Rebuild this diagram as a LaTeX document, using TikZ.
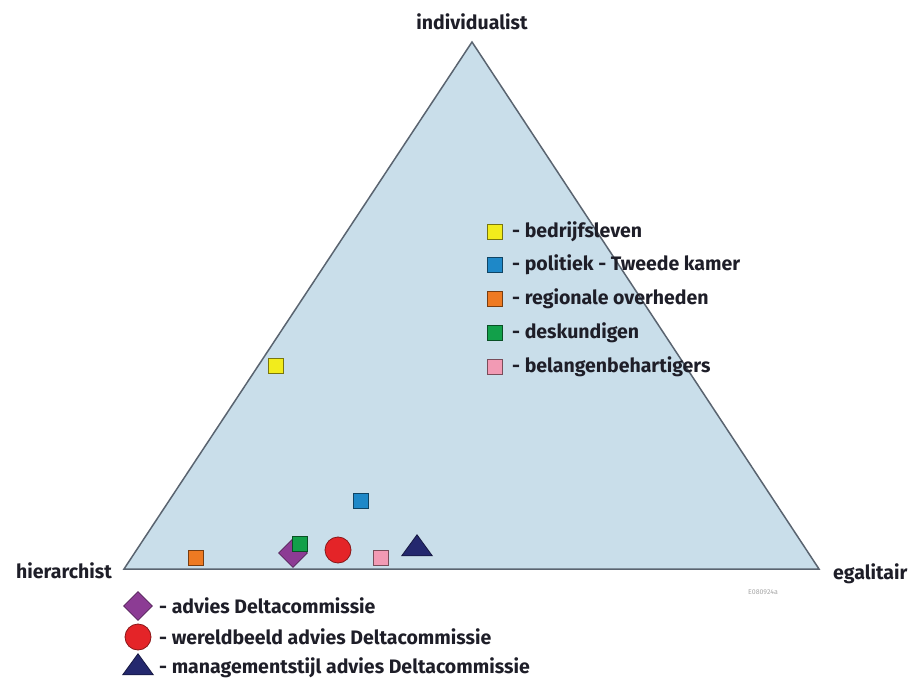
\documentclass[tikz,border=0pt]{standalone}
\usepackage{fontspec}
\setmainfont{Fira Sans}
\usetikzlibrary{shapes.geometric}
\definecolor{tri}{HTML}{C9DEEA}
\definecolor{edge}{HTML}{5A6470}
\definecolor{txt}{HTML}{1E1E28}
\definecolor{myyellow}{HTML}{F2EC1C}
\definecolor{myblue}{HTML}{1E88C8}
\definecolor{myorange}{HTML}{EE7A22}
\definecolor{mygreen}{HTML}{12A04A}
\definecolor{mypink}{HTML}{F29AB4}
\definecolor{mypurple}{HTML}{8C3C94}
\definecolor{myred}{HTML}{E42428}
\definecolor{mynavy}{HTML}{24286E}
\tikzset{
  sq/.style={draw=#1!50!black, fill=#1, line width=1pt, minimum size=15pt, inner sep=0pt, shape=rectangle},
  dia/.style={draw=mypurple!60!black, fill=mypurple, diamond, minimum size=29pt, inner sep=0pt, line width=0.8pt},
  circ/.style={draw=myred!60!black, fill=myred, circle, minimum size=26pt, inner sep=0pt, line width=0.8pt},
  tria/.style={draw=mynavy!60!black, fill=mynavy, isosceles triangle, isosceles triangle apex angle=72, shape border rotate=90, minimum height=21pt, inner sep=0pt, line width=0.8pt},
  lbl/.style={font=\bfseries\fontsize{19.5}{22}\selectfont, text=txt, anchor=west, inner sep=0pt},
  corner/.style={font=\bfseries\fontsize{19.5}{22}\selectfont, text=txt, inner sep=0pt},
}
\begin{document}
\begin{tikzpicture}[x=1pt,y=-1pt]
\useasboundingbox (0,0) rectangle (908,695);
\coordinate (T) at (472,42);
\coordinate (L) at (124,569);
\coordinate (R) at (819,569);
\draw[edge, fill=tri, line width=1.5pt, line join=miter] (L) -- (T) -- (R) -- cycle;
% corner labels
\node[corner] (ind) at (472,22) {individualist};
\node[corner, anchor=east] (hier) at (112,571) {hierarchist};
\node[corner, anchor=west] (egal) at (833,574) {egalitair};
\node[font=\fontsize{7}{8}\selectfont, text=gray!70, inner sep=0pt] (code) at (763,592) {E080924a};
% data markers
\node[sq=myyellow] (p1) at (276,366) {};
\node[sq=myblue] (p2) at (361,501) {};
\node[sq=myorange] (p3) at (196,558) {};
\node[dia] (pd) at (293,553) {};
\node[sq=mygreen] (p4) at (300,544) {};
\node[circ] (pc) at (338,550) {};
\node[sq=mypink] (p5) at (381,558) {};
\node[tria] (pt) at (417,548) {};
% legend inside
\node[sq=myyellow] (l1) at (495,232) {};
\node[lbl] (t1) at (512,232) {- bedrijfsleven};
\node[sq=myblue] (l2) at (495,265) {};
\node[lbl] (t2) at (512,265) {- politiek - Tweede kamer};
\node[sq=myorange] (l3) at (495,299) {};
\node[lbl] (t3) at (512,299) {- regionale overheden};
\node[sq=mygreen] (l4) at (495,333) {};
\node[lbl] (t4) at (512,333) {- deskundigen};
\node[sq=mypink] (l5) at (495,367) {};
\node[lbl] (t5) at (512,367) {- belangenbehartigers};
% legend below
\node[dia] (ld) at (138,606) {};
\node[lbl] (td) at (159,606) {- advies Deltacommissie};
\node[circ] (lc) at (138,637) {};
\node[lbl] (tc) at (159,637) {- wereldbeeld advies Deltacommissie};
\node[tria] (lt) at (138,667) {};
\node[lbl] (tt) at (159,668) {- managementstijl advies Deltacommissie};
\end{tikzpicture}
\end{document}
